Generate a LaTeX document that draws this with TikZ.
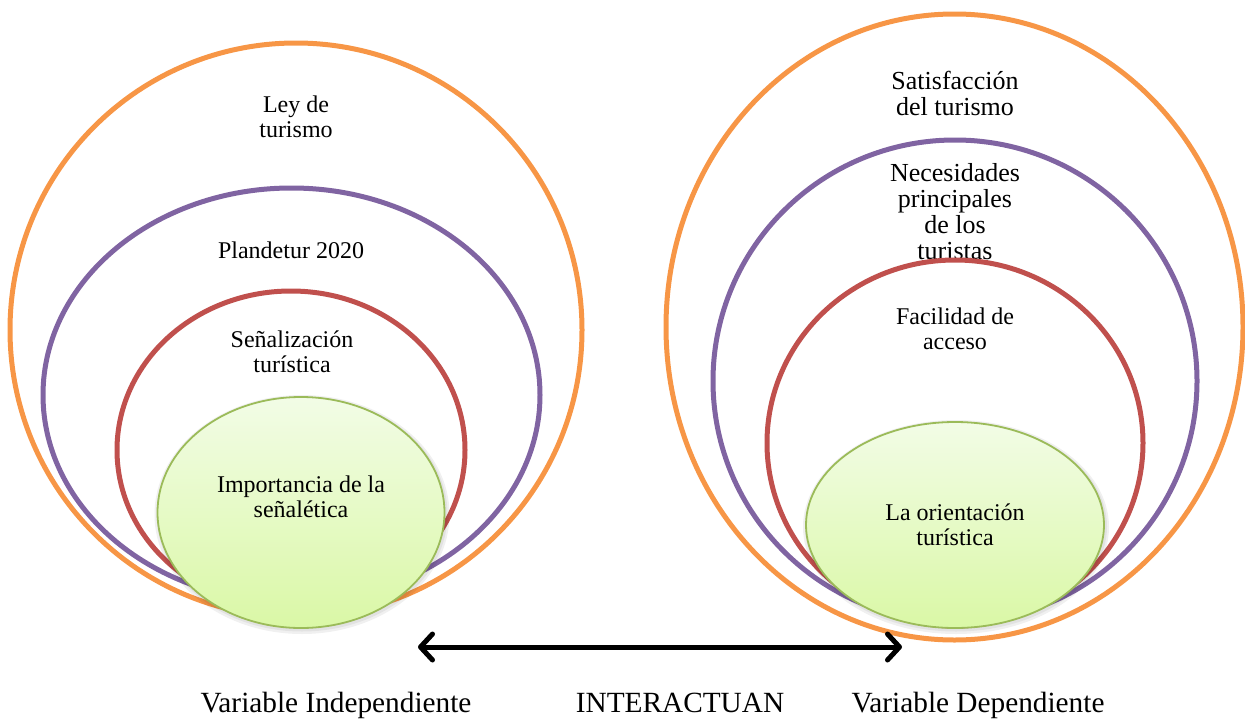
\documentclass[tikz,border=0pt]{standalone}
\usepackage{fontspec}
\setmainfont{Liberation Serif}
\usetikzlibrary{shapes.geometric,arrows.meta}
\definecolor{orng}{HTML}{F79646}
\definecolor{purp}{HTML}{8064A2}
\definecolor{redd}{HTML}{C0504D}
\definecolor{grn}{HTML}{9BBB59}
\definecolor{gtop}{HTML}{F2FCE6}
\definecolor{gbot}{HTML}{DAF8A6}
\tikzset{
  ring/.style={ellipse, draw, line width=5pt, inner sep=0pt, outer sep=0pt},
  core/.style={ellipse, draw=grn, line width=1.8pt, top color=gtop, bottom color=gbot,
    inner sep=0pt, outer sep=0pt},
  halo/.style={ellipse, fill=black, fill opacity=0.06, draw=none, inner sep=0pt, outer sep=0pt},
  lbl/.style={align=center, font=\fontsize{24}{25}\selectfont, inner sep=0pt},
  lblbig/.style={align=center, font=\fontsize{26}{26}\selectfont, inner sep=0pt},
  biglbl/.style={font=\fontsize{29.3}{34}\selectfont, inner sep=0pt, anchor=base}
}
\begin{document}
\begin{tikzpicture}[x=1pt,y=-1pt]
\useasboundingbox (0,0) rectangle (1245,720);
% left group
\node[ring, draw=orng, minimum width=572pt, minimum height=574pt] (lo) at (296,330) {};
\node[ring, draw=purp, minimum width=497pt, minimum height=414pt] (lp) at (291.5,395) {};
\node[lbl] (tlo) at (296,117) {Ley de\\turismo};
\node[lbl] (tlp) at (291,250) {Plandetur 2020};
\node[ring, draw=redd, minimum width=348pt, minimum height=318pt] (lr) at (291,450) {};
\node[lbl] (tlr) at (292,352) {Señalización\\turística};
\node[halo, minimum width=295pt, minimum height=239pt] (lh1) at (302,514.5) {};
\node[halo, minimum width=291pt, minimum height=235pt] (lh2) at (302,514) {};
\node[core, minimum width=287pt, minimum height=231pt] (lg) at (301,512.5) {};
\node[lbl] (tlg) at (301,497) {Importancia de la\\señalética};
% right group
\node[ring, draw=orng, minimum width=577pt, minimum height=626pt] (ro) at (954.5,327) {};
\node[ring, draw=purp, minimum width=484pt, minimum height=482pt] (rp) at (955,381) {};
\node[lblbig] (tro) at (955,93) {Satisfacción\\del turismo};
\node[lblbig] (trp) at (955,212) {Necesidades\\principales\\de los\\turistas};
\node[ring, draw=redd, minimum width=376pt, minimum height=366pt] (rr) at (955,443) {};
\node[lbl] (trr) at (955,329) {Facilidad de\\acceso};
\node[halo, minimum width=306pt, minimum height=214pt] (rh1) at (956,527) {};
\node[halo, minimum width=302pt, minimum height=210pt] (rh2) at (956,526.5) {};
\node[core, minimum width=298pt, minimum height=206pt] (rg) at (955,525) {};
\node[lbl] (trg) at (955,525) {La orientación\\turística};
% arrow
\coordinate (al) at (418,647);
\coordinate (ar) at (902,647);
\draw[line width=5pt, line cap=round,
  {Straight Barb[length=12pt, width=26pt, round]}-{Straight Barb[length=12pt, width=26pt, round]}] (al) -- (ar);
% bottom labels
\node[biglbl] (vi) at (336,712) {Variable Independiente};
\node[biglbl] (ia) at (680,712) {INTERACTUAN};
\node[biglbl] (vd) at (978,712) {Variable Dependiente};
\end{tikzpicture}
\end{document}
